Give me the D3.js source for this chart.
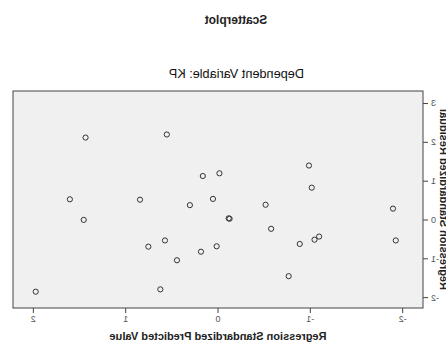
<!DOCTYPE html>
<html><head><meta charset="utf-8">
<script src="https://cdn.jsdelivr.net/npm/d3@7"></script>
<style>html,body{margin:0;padding:0;background:#fff;}svg{display:block;}</style>
</head><body>
<script>
const title = "Scatterplot";
const subtitle = "Dependent Variable: KP";
const xTitle = "Regression Standardized Predicted Value";
const yTitle = "Regression Standardized Residual";
const xTicks = [-2, -1, 0, 1, 2];
const yTicks = [-2, -1, 0, 1, 2, 3];
const predicted = [1.44, 0.56, -0.98, 0.17, -0.01, -1.01, 1.61, 0.85, 0.06, 0.31, -0.51, -1.89,
  1.46, -0.11, -0.12, -0.57, 0.58, 0.76, 0.19, 0.02, 0.45, -0.88, -1.04, -1.09, -1.92, -0.76, 1.98, 0.63];
const residual = [2.11, 2.19, 1.39, 1.12, 1.19, 0.82, 0.52, 0.51, 0.53, 0.37, 0.38, 0.28,
  -0.01, 0.03, 0.02, -0.24, -0.54, -0.70, -0.83, -0.69, -1.05, -0.63, -0.52, -0.44, -0.54, -1.46, -1.86, -1.80];

(function () {
const W = 446, H = 342;
const svg = d3.select("body").append("svg").attr("width", W).attr("height", H);
// the reference is a horizontally mirrored picture
const root = svg.append("g").attr("transform", `translate(${W},0) scale(-1,1)`);
const pL = 23, pR = 433, pT = 91, pB = 308;
const x = d3.scaleLinear().domain([-2.215, 2.226]).range([pL, pR]);
const y = d3.scaleLinear().domain([-2.28, 3.31]).range([pB, pT]);
const font = "'Liberation Sans', Arial, sans-serif";
const fmt = d => String(d);

root.append("rect").attr("x", pL).attr("y", pT).attr("width", pR - pL).attr("height", pB - pT)
  .attr("fill", "#f0f0f0").attr("stroke", "#444").attr("stroke-width", 1);

const xa = root.append("g").attr("transform", `translate(0,${pB})`)
  .call(d3.axisBottom(x).tickValues(xTicks).tickSize(5).tickPadding(3).tickFormat(fmt));
const ya = root.append("g").attr("transform", `translate(${pL},0)`)
  .call(d3.axisLeft(y).tickValues(yTicks).tickSize(5).tickPadding(3).tickFormat(fmt));
[xa, ya].forEach(a => {
  a.select(".domain").remove();
  a.selectAll("line").attr("stroke", "#444");
  a.selectAll("text").attr("fill", "#555").style("font-family", font).style("font-size", "9px");
});

root.append("g").selectAll("circle").data(predicted.map((p, i) => [p, residual[i]])).join("circle")
  .attr("cx", d => x(d[0])).attr("cy", d => y(d[1])).attr("r", 2.6)
  .attr("fill", "none").attr("stroke", "#333").attr("stroke-width", 1);

root.append("text").attr("x", 210).attr("y", 24).attr("text-anchor", "middle")
  .style("font-family", font).style("font-size", "12px").style("font-weight", "bold").attr("fill", "#222").text(title);
root.append("text").attr("x", 209.7).attr("y", 78).attr("text-anchor", "middle")
  .style("font-family", font).style("font-size", "12.7px").attr("fill", "#111").text(subtitle);
root.append("text").attr("x", 228).attr("y", 340).attr("text-anchor", "middle")
  .style("font-family", font).style("font-size", "11px").style("font-weight", "bold").attr("fill", "#222").text(xTitle);
root.append("text").attr("transform", `translate(6,${(pT + pB) / 2}) rotate(-90)`).attr("text-anchor", "middle")
  .style("font-family", font).style("font-size", "11px").style("font-weight", "bold").attr("fill", "#222").text(yTitle);
})();
</script>
</body></html>
